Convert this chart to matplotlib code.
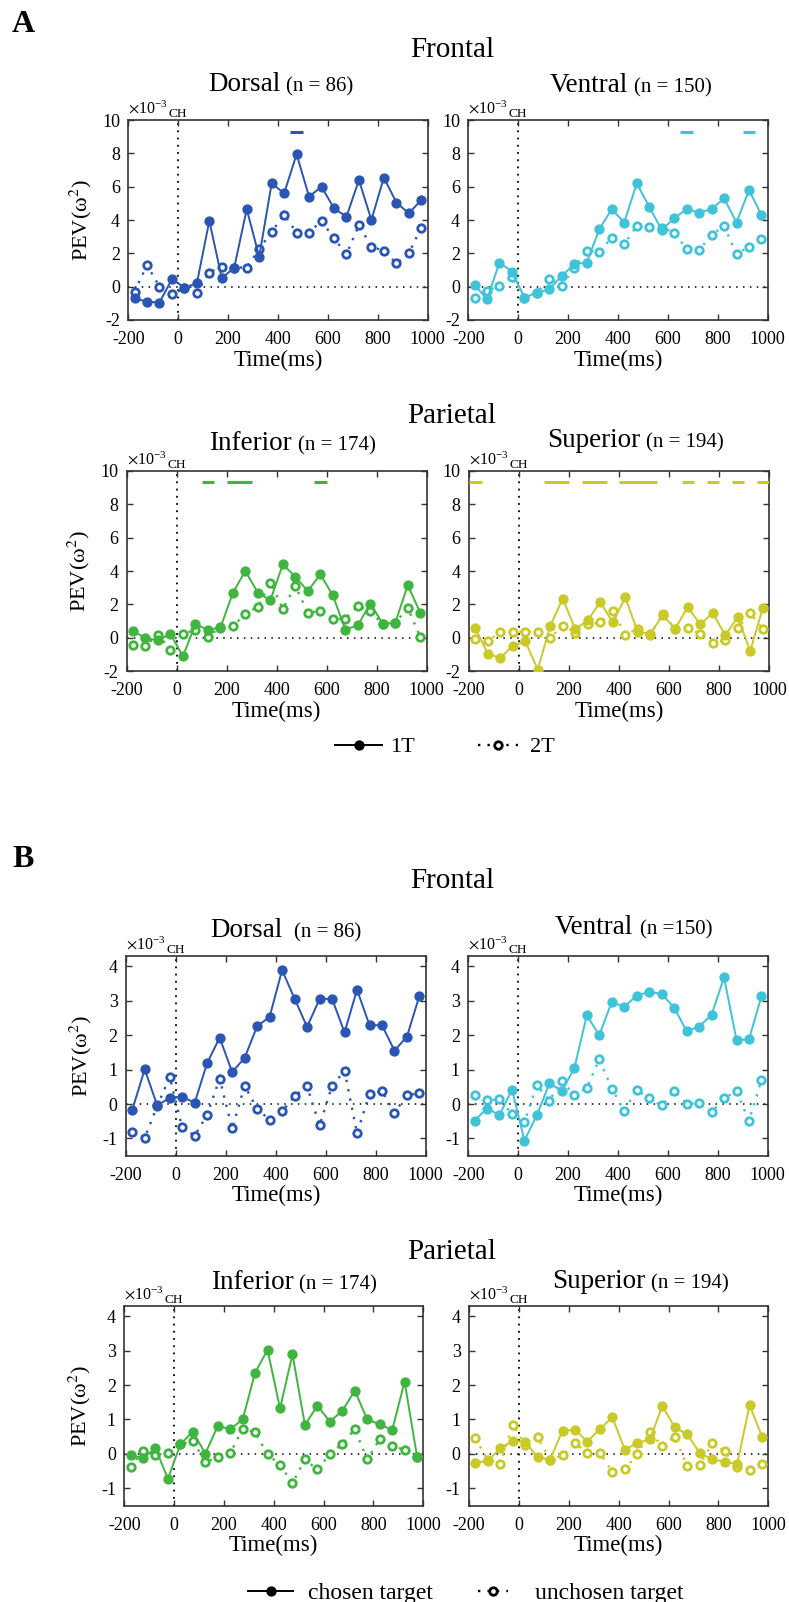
import matplotlib
matplotlib.use("Agg")
import matplotlib.pyplot as plt
from matplotlib.lines import Line2D
import numpy as np

plt.rcParams['font.family'] = ['Liberation Serif', 'DejaVu Serif']
plt.rcParams['mathtext.fontset'] = 'stix'
plt.rcParams['axes.unicode_minus'] = False

# time bins (ms)
time_ms = np.arange(-175, 1000, 50)

# ---------------- Panel A: 1T vs 2T ----------------
a_dorsal_1t = [-0.7, -0.9, -0.95, 0.45, -0.05, 0.2, 3.95, 0.5, 1.15, 4.65, 1.8, 6.2,
               5.6, 7.95, 5.4, 6.0, 4.7, 4.2, 6.4, 4.0, 6.55, 5.05, 4.4, 5.2]
a_dorsal_2t = [-0.3, 1.3, 0.0, -0.45, -0.1, -0.35, 0.85, 1.2, 1.15, 1.15, 2.25, 3.3,
               4.3, 3.25, 3.25, 3.95, 2.9, 1.95, 3.7, 2.4, 2.15, 1.4, 2.0, 3.55]
a_ventral_1t = [0.12, -0.75, 1.45, 0.9, -0.65, -0.35, -0.15, 0.65, 1.35, 1.45, 3.45, 4.65,
                3.85, 6.2, 4.8, 3.4, 4.1, 4.65, 4.45, 4.65, 5.3, 3.85, 5.8, 4.3]
a_ventral_2t = [-0.65, -0.25, 0.05, 0.6, -0.65, -0.35, 0.45, 0.05, 1.15, 2.15, 2.1, 2.95,
                2.55, 3.65, 3.6, 3.55, 3.25, 2.25, 2.2, 3.1, 3.65, 1.95, 2.4, 2.85]
a_inferior_1t = [0.4, 0.0, -0.15, 0.25, -1.1, 0.8, 0.5, 0.6, 2.7, 4.0, 2.7, 2.25,
                 4.4, 3.65, 2.8, 3.8, 2.55, 0.5, 0.75, 2.05, 0.85, 0.9, 3.15, 1.5]
a_inferior_2t = [-0.4, -0.48, 0.2, -0.72, 0.25, 0.45, 0.05, 0.65, 0.7, 1.45, 1.85, 3.3,
                 1.75, 3.1, 1.5, 1.6, 1.1, 1.15, 1.9, 1.6, 0.8, 0.9, 1.8, 0.05]
a_superior_1t = [0.6, -0.95, -1.2, -0.48, -0.2, -1.9, 0.72, 2.35, 0.52, 1.05, 2.15, 0.92,
                 2.42, 0.35, 0.25, 1.35, 0.55, 1.85, 0.8, 1.5, 0.15, 1.25, -0.78, 1.78]
a_superior_2t = [-0.08, -0.2, 0.35, 0.35, 0.37, 0.35, 0.02, 0.72, 0.32, 0.8, 0.92, 1.62,
                 0.2, 0.55, 0.18, 1.42, 0.55, 0.6, 0.25, -0.28, -0.12, 0.58, 1.48, 0.55]

# significant time windows (ms), drawn as bars near the top
a_dorsal_sig = [(450, 500)]
a_ventral_sig = [(650, 700), (900, 950)]
a_inferior_sig = [(100, 150), (200, 300), (550, 600)]
a_superior_sig = [(-200, -150), (100, 200), (250, 350), (400, 550),
                  (650, 700), (750, 800), (850, 900), (950, 1000)]

# ---------------- Panel B: chosen vs unchosen target ----------------
b_dorsal_ch = [-0.17, 1.01, -0.04, 0.18, 0.21, 0.04, 1.19, 1.93, 0.93, 1.34, 2.26, 2.53,
               3.89, 3.06, 2.24, 3.05, 3.06, 2.08, 3.32, 2.29, 2.29, 1.55, 1.96, 3.15]
b_dorsal_un = [-0.82, -0.98, -0.06, 0.79, -0.68, -0.92, -0.31, 0.74, -0.71, 0.53, -0.14, -0.46,
               -0.21, 0.23, 0.51, -0.62, 0.52, 0.97, -0.85, 0.3, 0.38, -0.25, 0.26, 0.31]
b_ventral_ch = [-0.48, -0.13, -0.32, 0.42, -1.06, -0.32, 0.6, 0.38, 1.04, 2.58, 2.0, 2.97,
                2.82, 3.15, 3.26, 3.2, 2.8, 2.12, 2.25, 2.59, 3.68, 1.86, 1.88, 3.13]
b_ventral_un = [0.25, 0.11, 0.14, -0.29, -0.51, 0.55, 0.1, 0.68, 0.26, 0.47, 1.3, 0.45,
                -0.19, 0.41, 0.17, -0.04, 0.38, 0.01, 0.02, -0.24, 0.17, 0.37, -0.48, 0.69]
b_inferior_ch = [-0.02, -0.13, 0.17, -0.72, 0.28, 0.65, 0.01, 0.81, 0.72, 1.0, 2.36, 3.02,
                 1.32, 2.89, 0.84, 1.4, 0.94, 1.25, 1.84, 1.0, 0.86, 0.69, 2.1, -0.08]
b_inferior_un = [-0.39, 0.1, -0.02, 0.02, 0.28, 0.38, -0.23, -0.09, 0.02, 0.73, 0.63, -0.01,
                 -0.32, -0.85, -0.16, -0.45, 0.0, 0.29, 0.72, -0.16, 0.43, 0.24, 0.12, -0.1]
b_superior_ch = [-0.26, -0.2, 0.16, 0.38, 0.35, -0.09, -0.17, 0.68, 0.7, 0.36, 0.73, 1.06,
                 0.12, 0.32, 0.42, 1.39, 0.77, 0.57, 0.03, -0.16, -0.22, -0.3, 1.42, 0.5]
b_superior_un = [0.46, -0.17, -0.3, 0.85, 0.27, 0.48, -0.17, -0.04, 0.31, 0.04, 0.03, -0.51,
                 -0.45, 0.0, 0.64, 0.22, 0.5, -0.36, -0.32, 0.31, 0.08, -0.39, -0.46, -0.3]

region_names = ['Dorsal', 'Ventral', 'Inferior', 'Superior']
a_counts = ['(n = 86)', '(n = 150)', '(n = 174)', '(n = 194)']
b_counts = ['(n = 86)', '(n =150)', '(n = 174)', '(n = 194)']
lobe_names = ['Frontal', 'Parietal']
a_legend = ['1T', '2T']
b_legend = ['chosen target', 'unchosen target']

colors = {'Dorsal': '#2a55b3', 'Ventral': '#3ec3d8',
          'Inferior': '#3fb53f', 'Superior': '#c9c928'}

W, H = 789, 1602
fig = plt.figure(figsize=(W / 100, H / 100), dpi=100)


def box(l, r, t, b):
    return [l / W, 1 - b / H, (r - l) / W, (b - t) / H]


def fx(x):
    return x / W


def fy(y):
    return 1 - y / H


def panel(rect, name, solid, dotted, ylim, yticks, ylabel, sig=None):
    ax = fig.add_axes(rect)
    c = colors[name]
    ax.axhline(0, color='black', lw=1.1, ls=(0, (1, 3.5)), zorder=1)
    ax.axvline(0, color='black', lw=1.3, ls=(0, (1, 3)), zorder=1)
    ax.plot(time_ms, dotted, color=c, lw=1.7, ls=(0, (1, 3.0)), marker='o',
            ms=5.4, mfc='white', mec=c, mew=2.0, zorder=3)
    ax.plot(time_ms, solid, color=c, lw=1.4, ls='-', marker='o',
            ms=6.4, mfc=c, mec=c, zorder=4)
    if sig:
        for s, e in sig:
            ax.plot([s, e], [9.3, 9.3], color=c, lw=2.2, solid_capstyle='butt', zorder=5)
    ax.set_xlim(-200, 1000)
    ax.set_ylim(*ylim)
    ax.set_xticks([-200, 0, 200, 400, 600, 800, 1000])
    ax.set_yticks(yticks)
    ax.tick_params(direction='in', top=True, right=True, length=4, width=1,
                   labelsize=13, color='#333333')
    ax.tick_params(axis='x', pad=8)
    ax.tick_params(axis='y', pad=6)
    for sp in ax.spines.values():
        sp.set_color('#333333')
        sp.set_linewidth(1.2)
    ax.set_xlabel('Time(ms)', fontsize=16.5, labelpad=1)
    if ylabel:
        ax.set_ylabel('PEV(ω$^{2}$)', fontsize=16, labelpad=6)
    ax.text(0.0, 1.01, r'$\times\mathregular{10^{-3}}$', transform=ax.transAxes,
            fontsize=11.5, ha='left', va='bottom')
    ax.text(0.135, 1.0, 'CH', transform=ax.transAxes, fontsize=9.5, ha='left', va='bottom')
    return ax


renderer = fig.canvas.get_renderer()


def subtitle(x0, y, name, count, gap):
    t = fig.text(fx(x0), fy(y), name, fontsize=19.5, ha='left', va='baseline')
    bb = t.get_window_extent(renderer=renderer)
    fig.text(bb.x1 / W + gap / W, fy(y), count, fontsize=15, ha='left', va='baseline')


yA = (-2, 10)
ytA = [-2, 0, 2, 4, 6, 8, 10]
yB = (-1.5, 4.3)
ytB = [-1, 0, 1, 2, 3, 4]

# ---- A ----
panel(box(128.3, 427.5, 120, 320), 'Dorsal', a_dorsal_1t, a_dorsal_2t, yA, ytA, True, a_dorsal_sig)
panel(box(468.3, 767.7, 120, 320), 'Ventral', a_ventral_1t, a_ventral_2t, yA, ytA, False, a_ventral_sig)
panel(box(126.7, 426.5, 470.7, 671.3), 'Inferior', a_inferior_1t, a_inferior_2t, yA, ytA, True, a_inferior_sig)
panel(box(469, 769, 470.7, 671.3), 'Superior', a_superior_1t, a_superior_2t, yA, ytA, False, a_superior_sig)

# ---- B ----
panel(box(126, 425.7, 956, 1155.7), 'Dorsal', b_dorsal_ch, b_dorsal_un, yB, ytB, True)
panel(box(468.3, 767.7, 956, 1155.7), 'Ventral', b_ventral_ch, b_ventral_un, yB, ytB, False)
panel(box(124.3, 423.3, 1305.7, 1505.7), 'Inferior', b_inferior_ch, b_inferior_un, yB, ytB, True)
panel(box(469, 768.3, 1305.7, 1505.7), 'Superior', b_superior_ch, b_superior_un, yB, ytB, False)

# panel letters
fig.text(fx(12), fy(32), 'A', fontsize=23, fontweight='bold', ha='left', va='baseline')
fig.text(fx(12), fy(867), 'B', fontsize=23, fontweight='bold', ha='left', va='baseline')

# lobe headings
for y, lobe in [(57, lobe_names[0]), (423, lobe_names[1]), (888, lobe_names[0]), (1259, lobe_names[1])]:
    fig.text(fx(452), fy(y), lobe, fontsize=21, ha='center', va='baseline')

# region headings
subtitle(208, 91, region_names[0], a_counts[0], 6)
subtitle(549.3, 92, region_names[1], a_counts[1], 6)
subtitle(209.3, 450, region_names[2], a_counts[2], 6)
subtitle(547.3, 447, region_names[3], a_counts[3], 6)
subtitle(210.7, 937, region_names[0], b_counts[0], 11)
subtitle(555, 934, region_names[1], b_counts[1], 7)
subtitle(210.7, 1289, region_names[2], b_counts[2], 6)
subtitle(551.7, 1288, region_names[3], b_counts[3], 6)


# legends
def legend_entry(x0, x1, y, text_x, label, size, hollow):
    if hollow:
        fig.add_artist(Line2D([fx(x0), fx(x1)], [fy(y), fy(y)], transform=fig.transFigure,
                              color='black', lw=1.7, ls=(0, (1, 3.0))))
        fig.add_artist(Line2D([fx((x0 + x1) / 2)], [fy(y)], transform=fig.transFigure,
                              color='black', marker='o', ms=5.4, mfc='white', mec='black',
                              mew=2.0, ls='none'))
    else:
        fig.add_artist(Line2D([fx(x0), fx(x1)], [fy(y), fy(y)], transform=fig.transFigure,
                              color='black', lw=1.4, marker='', ls='-'))
        fig.add_artist(Line2D([fx((x0 + x1) / 2)], [fy(y)], transform=fig.transFigure,
                              color='black', marker='o', ms=6.4, ls='none'))
    fig.text(fx(text_x), fy(y), label, fontsize=size, ha='left', va='center_baseline')


legend_entry(335, 382, 745, 390, a_legend[0], 16, False)
legend_entry(478, 518, 745, 530, a_legend[1], 16, True)
legend_entry(248, 293, 1591, 308, b_legend[0], 17, False)
legend_entry(478, 508, 1591, 535, b_legend[1], 17, True)

fig.savefig('out.png', dpi=100, facecolor='white')
